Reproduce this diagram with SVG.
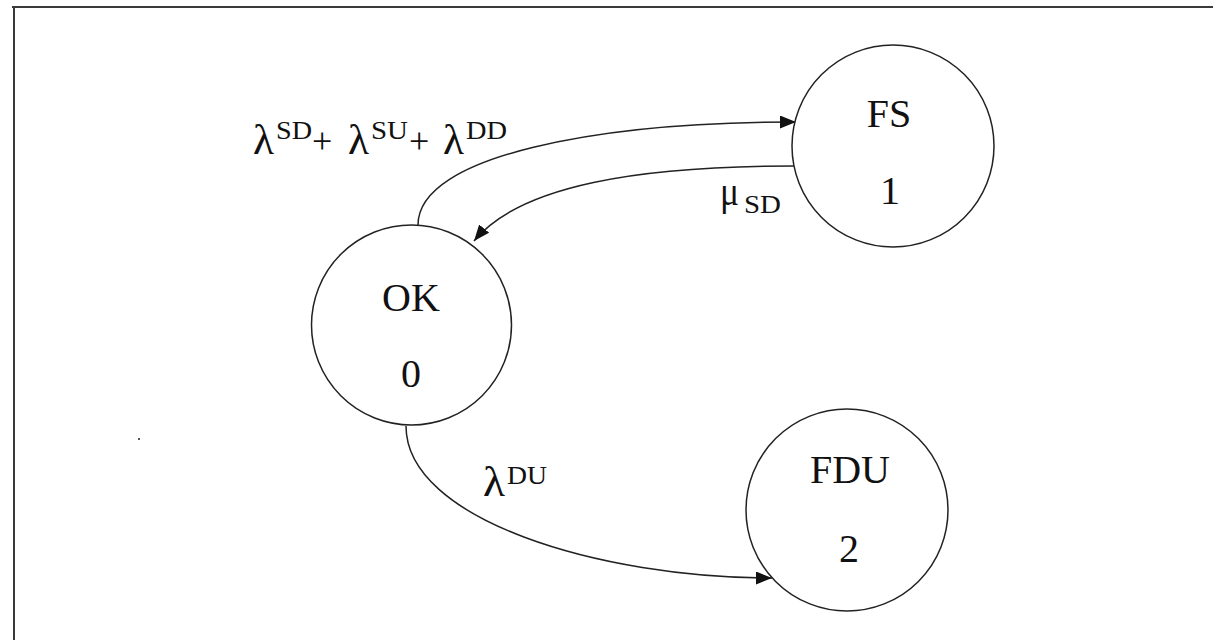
<svg xmlns="http://www.w3.org/2000/svg" width="1213" height="640" viewBox="0 0 1213 640">
<style>
  .frame{stroke:#3a3a3a;stroke-width:2;fill:none}
  .node{fill:#fff;stroke:#222;stroke-width:1.5}
  .lbl{font-family:"Liberation Serif","Times New Roman",serif;fill:#111}
  .name{font-size:40px;text-anchor:middle}
  .greek{font-size:42px}
  .script{font-size:25px}
  .op{font-size:36px}
  .edge{fill:none;stroke:#222;stroke-width:1.5}
</style>
<defs>
  <marker id="arr" markerUnits="userSpaceOnUse" markerWidth="17" markerHeight="13" refX="16" refY="6.5" orient="auto">
    <path d="M0,0 L16,6.5 L0,13 Z" fill="#111"/>
  </marker>
</defs>
<rect width="1213" height="640" fill="#fff"/>
<g id="frame">
  <line class="frame" x1="12" y1="7" x2="1213" y2="7"/>
  <line class="frame" x1="14" y1="7" x2="14" y2="640"/>
  <rect x="138" y="438" width="2" height="2" fill="#555"/>
</g>
<g id="connectors">
  <path class="edge" d="M418,225 C418,155 600,122 796,122" marker-end="url(#arr)"/>
  <path class="edge" d="M794,166 C640,166 520,185 474,241" marker-end="url(#arr)"/>
  <path class="edge" d="M406,426 C406,520 600,578 772,578" marker-end="url(#arr)"/>
</g>
<g id="node-ok">
  <circle class="node" cx="411.5" cy="325" r="100"/>
  <text class="lbl name" x="411" y="311">OK</text>
  <text class="lbl name" x="411" y="387">0</text>
</g>
<g id="node-fs">
  <circle class="node" cx="893" cy="146" r="101"/>
  <text class="lbl name" x="889" y="127">FS</text>
  <text class="lbl name" x="890" y="204">1</text>
</g>
<g id="node-fdu">
  <circle class="node" cx="847" cy="510" r="101"/>
  <text class="lbl name" x="850" y="483">FDU</text>
  <text class="lbl name" x="849" y="562">2</text>
</g>
<g id="label-up">
  <text class="lbl greek" x="253" y="154" textLength="21" lengthAdjust="spacingAndGlyphs">λ</text>
  <text class="lbl script" x="276" y="139" textLength="36" lengthAdjust="spacingAndGlyphs">SD</text>
  <text class="lbl op" x="312" y="153">+</text>
  <text class="lbl greek" x="348" y="154" textLength="21" lengthAdjust="spacingAndGlyphs">λ</text>
  <text class="lbl script" x="371" y="139" textLength="37" lengthAdjust="spacingAndGlyphs">SU</text>
  <text class="lbl op" x="409" y="153">+</text>
  <text class="lbl greek" x="443" y="154" textLength="21" lengthAdjust="spacingAndGlyphs">λ</text>
  <text class="lbl script" x="466" y="139" textLength="41" lengthAdjust="spacingAndGlyphs">DD</text>
</g>
<g id="label-mu">
  <text class="lbl greek" x="720" y="205" textLength="19" lengthAdjust="spacingAndGlyphs">μ</text>
  <text class="lbl script" x="744" y="213" textLength="37" lengthAdjust="spacingAndGlyphs">SD</text>
</g>
<g id="label-du">
  <text class="lbl greek" x="483" y="496" textLength="22" lengthAdjust="spacingAndGlyphs">λ</text>
  <text class="lbl script" x="507" y="484" textLength="40" lengthAdjust="spacingAndGlyphs">DU</text>
</g>
</svg>
